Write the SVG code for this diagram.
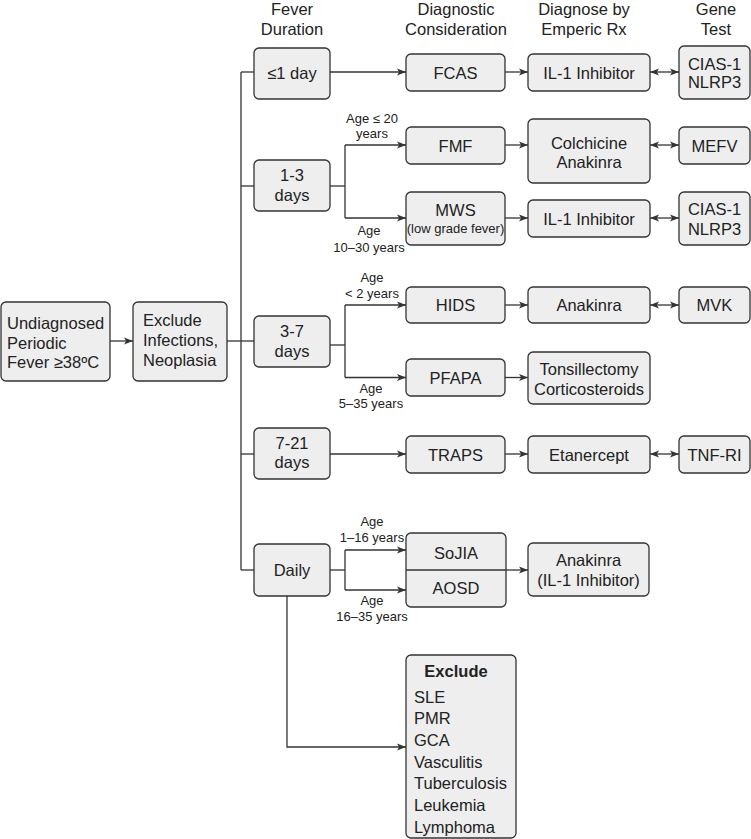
<svg xmlns="http://www.w3.org/2000/svg" width="751" height="839" viewBox="0 0 751 839">
<style>
  .box { fill: #eeeeee; stroke: #333333; stroke-width: 1.3; }
  .t { font-family: "Liberation Sans", Arial, sans-serif; font-size: 16.5px; fill: #222222; }
  .c { text-anchor: middle; }
  .s { font-family: "Liberation Sans", Arial, sans-serif; font-size: 13px; fill: #222222; text-anchor: middle; }
  .b { font-weight: bold; }
  .ln { fill: none; stroke: #333333; stroke-width: 1.3; }
  .ar { fill: none; stroke: #333333; stroke-width: 1.3; marker-end: url(#ah); }
  .da { fill: none; stroke: #333333; stroke-width: 1.3; marker-end: url(#ah); marker-start: url(#ah); }
</style>
<defs>
  <marker id="ah" markerUnits="userSpaceOnUse" markerWidth="10" markerHeight="8" refX="9" refY="4" orient="auto-start-reverse">
    <path d="M0,0.5 L9,4 L0,7.5 L2.2,4 Z" fill="#333333"/>
  </marker>
</defs>
<rect width="751" height="839" fill="#ffffff"/>

<g id="headers">
  <text class="t c" x="292" y="14.5">Fever</text>
  <text class="t c" x="292" y="34.5">Duration</text>
  <text class="t c" x="456" y="14.5">Diagnostic</text>
  <text class="t c" x="456" y="34.5">Consideration</text>
  <text class="t c" x="584" y="14.5">Diagnose by</text>
  <text class="t c" x="584" y="34.5">Emperic Rx</text>
  <text class="t c" x="716" y="14.5">Gene</text>
  <text class="t c" x="716" y="34.5">Test</text>
</g>

<g id="connectors">
  <path class="ar" d="M110,341 L133,341"/>
  <path class="ln" d="M227,341 L254,341"/>
  <path class="ln" d="M241,72 L241,570"/>
  <path class="ln" d="M241,72 L254,72"/>
  <path class="ln" d="M241,186 L254,186"/>
  <path class="ln" d="M241,454 L254,454"/>
  <path class="ln" d="M241,570 L254,570"/>
  <!-- row 1 -->
  <path class="ar" d="M330,72 L406,72"/>
  <path class="ar" d="M505,72 L528,72"/>
  <path class="da" d="M650,72 L679,72"/>
  <!-- 1-3 days -->
  <path class="ln" d="M330,186 L345,186"/>
  <path class="ln" d="M345,145 L345,218"/>
  <path class="ar" d="M345,145 L406,145"/>
  <path class="ar" d="M345,218 L406,218"/>
  <path class="ar" d="M505,145 L528,145"/>
  <path class="da" d="M650,145 L679,145"/>
  <path class="ar" d="M505,218 L528,218"/>
  <path class="da" d="M650,218 L679,218"/>
  <!-- 3-7 days -->
  <path class="ln" d="M330,345 L345,345"/>
  <path class="ln" d="M345,305 L345,377.5"/>
  <path class="ar" d="M345,305 L406,305"/>
  <path class="ar" d="M345,377.5 L406,377.5"/>
  <path class="ar" d="M505,305 L528,305"/>
  <path class="da" d="M650,305 L679,305"/>
  <path class="ar" d="M505,377.5 L528,377.5"/>
  <!-- 7-21 days -->
  <path class="ar" d="M330,454 L406,454"/>
  <path class="ar" d="M505,454 L528,454"/>
  <path class="da" d="M650,454 L679,454"/>
  <!-- daily -->
  <path class="ln" d="M330,570 L345,570"/>
  <path class="ln" d="M345,550 L345,590"/>
  <path class="ar" d="M345,550 L406,550"/>
  <path class="ar" d="M345,590 L406,590"/>
  <path class="ar" d="M506,570 L528,570"/>
  <path class="ar" d="M287,596 L287,747 L406,747"/>
</g>

<g id="age-labels">
  <text class="s" x="372" y="122.5">Age ≤ 20</text>
  <text class="s" x="372" y="137.5">years</text>
  <text class="s" x="369" y="235">Age</text>
  <text class="s" x="369" y="251.5">10–30 years</text>
  <text class="s" x="372" y="282">Age</text>
  <text class="s" x="372" y="297.5">&lt; 2 years</text>
  <text class="s" x="371" y="393">Age</text>
  <text class="s" x="371" y="408">5–35 years</text>
  <text class="s" x="372" y="525.5">Age</text>
  <text class="s" x="372" y="541.5">1–16 years</text>
  <text class="s" x="372" y="604.5">Age</text>
  <text class="s" x="372" y="620.5">16–35 years</text>
</g>

<g id="n-undiagnosed">
  <rect class="box" x="1" y="302" width="109" height="79" rx="5"/>
  <text class="t" x="7" y="329">Undiagnosed</text>
  <text class="t" x="7" y="348.5">Periodic</text>
  <text class="t" x="7" y="368">Fever ≥38ºC</text>
</g>
<g id="n-exclude-inf">
  <rect class="box" x="133" y="302" width="94" height="79" rx="5"/>
  <text class="t" x="143" y="326">Exclude</text>
  <text class="t" x="143" y="346">Infections,</text>
  <text class="t" x="143" y="366">Neoplasia</text>
</g>

<g id="n-d1">
  <rect class="box" x="254" y="48" width="76" height="51" rx="5"/>
  <text class="t c" x="292" y="78.5">≤1 day</text>
</g>
<g id="n-d2">
  <rect class="box" x="254" y="160" width="76" height="51" rx="5"/>
  <text class="t c" x="292" y="181">1-3</text>
  <text class="t c" x="292" y="200.5">days</text>
</g>
<g id="n-d3">
  <rect class="box" x="254" y="316" width="76" height="51" rx="5"/>
  <text class="t c" x="292" y="337">3-7</text>
  <text class="t c" x="292" y="356.5">days</text>
</g>
<g id="n-d4">
  <rect class="box" x="254" y="428" width="76" height="51" rx="5"/>
  <text class="t c" x="292" y="448.5">7-21</text>
  <text class="t c" x="292" y="468">days</text>
</g>
<g id="n-d5">
  <rect class="box" x="254" y="544" width="76" height="52" rx="5"/>
  <text class="t c" x="292" y="576">Daily</text>
</g>

<g id="n-fcas">
  <rect class="box" x="406" y="54" width="99" height="37" rx="5"/>
  <text class="t c" x="455.5" y="78.5">FCAS</text>
</g>
<g id="n-il1a">
  <rect class="box" x="528" y="54" width="122" height="37" rx="5"/>
  <text class="t c" x="589" y="78.5">IL-1 Inhibitor</text>
</g>
<g id="n-cias-a">
  <rect class="box" x="679" y="46" width="71" height="53" rx="5"/>
  <text class="t c" x="714.5" y="69.5">CIAS-1</text>
  <text class="t c" x="714.5" y="88">NLRP3</text>
</g>

<g id="n-fmf">
  <rect class="box" x="406" y="127" width="99" height="37" rx="5"/>
  <text class="t c" x="455.5" y="151.5">FMF</text>
</g>
<g id="n-colch">
  <rect class="box" x="528" y="119" width="122" height="64" rx="5"/>
  <text class="t c" x="589" y="148.5">Colchicine</text>
  <text class="t c" x="589" y="168">Anakinra</text>
</g>
<g id="n-mefv">
  <rect class="box" x="679" y="127" width="71" height="37" rx="5"/>
  <text class="t c" x="714.5" y="151.5">MEFV</text>
</g>

<g id="n-mws">
  <rect class="box" x="406" y="192" width="99" height="53" rx="5"/>
  <text class="t c" x="455.5" y="216">MWS</text>
  <text class="s" x="455.5" y="233">(low grade fever)</text>
</g>
<g id="n-il1b">
  <rect class="box" x="528" y="200" width="122" height="37" rx="5"/>
  <text class="t c" x="589" y="224.5">IL-1 Inhibitor</text>
</g>
<g id="n-cias-b">
  <rect class="box" x="679" y="192" width="71" height="53" rx="5"/>
  <text class="t c" x="714.5" y="215">CIAS-1</text>
  <text class="t c" x="714.5" y="235">NLRP3</text>
</g>

<g id="n-hids">
  <rect class="box" x="406" y="287" width="99" height="36" rx="5"/>
  <text class="t c" x="455.5" y="311">HIDS</text>
</g>
<g id="n-anakinra">
  <rect class="box" x="528" y="287" width="122" height="36" rx="5"/>
  <text class="t c" x="589" y="311">Anakinra</text>
</g>
<g id="n-mvk">
  <rect class="box" x="679" y="287" width="71" height="36" rx="5"/>
  <text class="t c" x="714.5" y="311">MVK</text>
</g>

<g id="n-pfapa">
  <rect class="box" x="406" y="359" width="99" height="37" rx="5"/>
  <text class="t c" x="455.5" y="383.5">PFAPA</text>
</g>
<g id="n-tonsil">
  <rect class="box" x="528" y="352" width="122" height="52" rx="5"/>
  <text class="t c" x="589" y="375">Tonsillectomy</text>
  <text class="t c" x="589" y="395">Corticosteroids</text>
</g>

<g id="n-traps">
  <rect class="box" x="406" y="436" width="99" height="37" rx="5"/>
  <text class="t c" x="455.5" y="460.5">TRAPS</text>
</g>
<g id="n-etanercept">
  <rect class="box" x="528" y="436" width="122" height="37" rx="5"/>
  <text class="t c" x="589" y="460.5">Etanercept</text>
</g>
<g id="n-tnf">
  <rect class="box" x="679" y="436" width="71" height="37" rx="5"/>
  <text class="t c" x="714.5" y="460.5">TNF-RI</text>
</g>

<g id="n-sojia-aosd">
  <rect class="box" x="406" y="533" width="100" height="74" rx="5"/>
  <path class="ln" d="M406,570 L506,570"/>
  <text class="t c" x="456" y="559">SoJIA</text>
  <text class="t c" x="456" y="593.5">AOSD</text>
</g>
<g id="n-anakinra-il1">
  <rect class="box" x="528" y="543" width="121" height="53" rx="5"/>
  <text class="t c" x="588.5" y="566">Anakinra</text>
  <text class="t c" x="588.5" y="586">(IL-1 Inhibitor)</text>
</g>

<g id="n-exclude-list">
  <rect class="box" x="406" y="655" width="110" height="183" rx="5"/>
  <text class="t c b" x="456" y="676.5">Exclude</text>
  <text class="t" x="414" y="702.5">SLE</text>
  <text class="t" x="414" y="724.2">PMR</text>
  <text class="t" x="414" y="745.9">GCA</text>
  <text class="t" x="414" y="767.6">Vasculitis</text>
  <text class="t" x="414" y="789.3">Tuberculosis</text>
  <text class="t" x="414" y="811">Leukemia</text>
  <text class="t" x="414" y="832.7">Lymphoma</text>
</g>
</svg>
